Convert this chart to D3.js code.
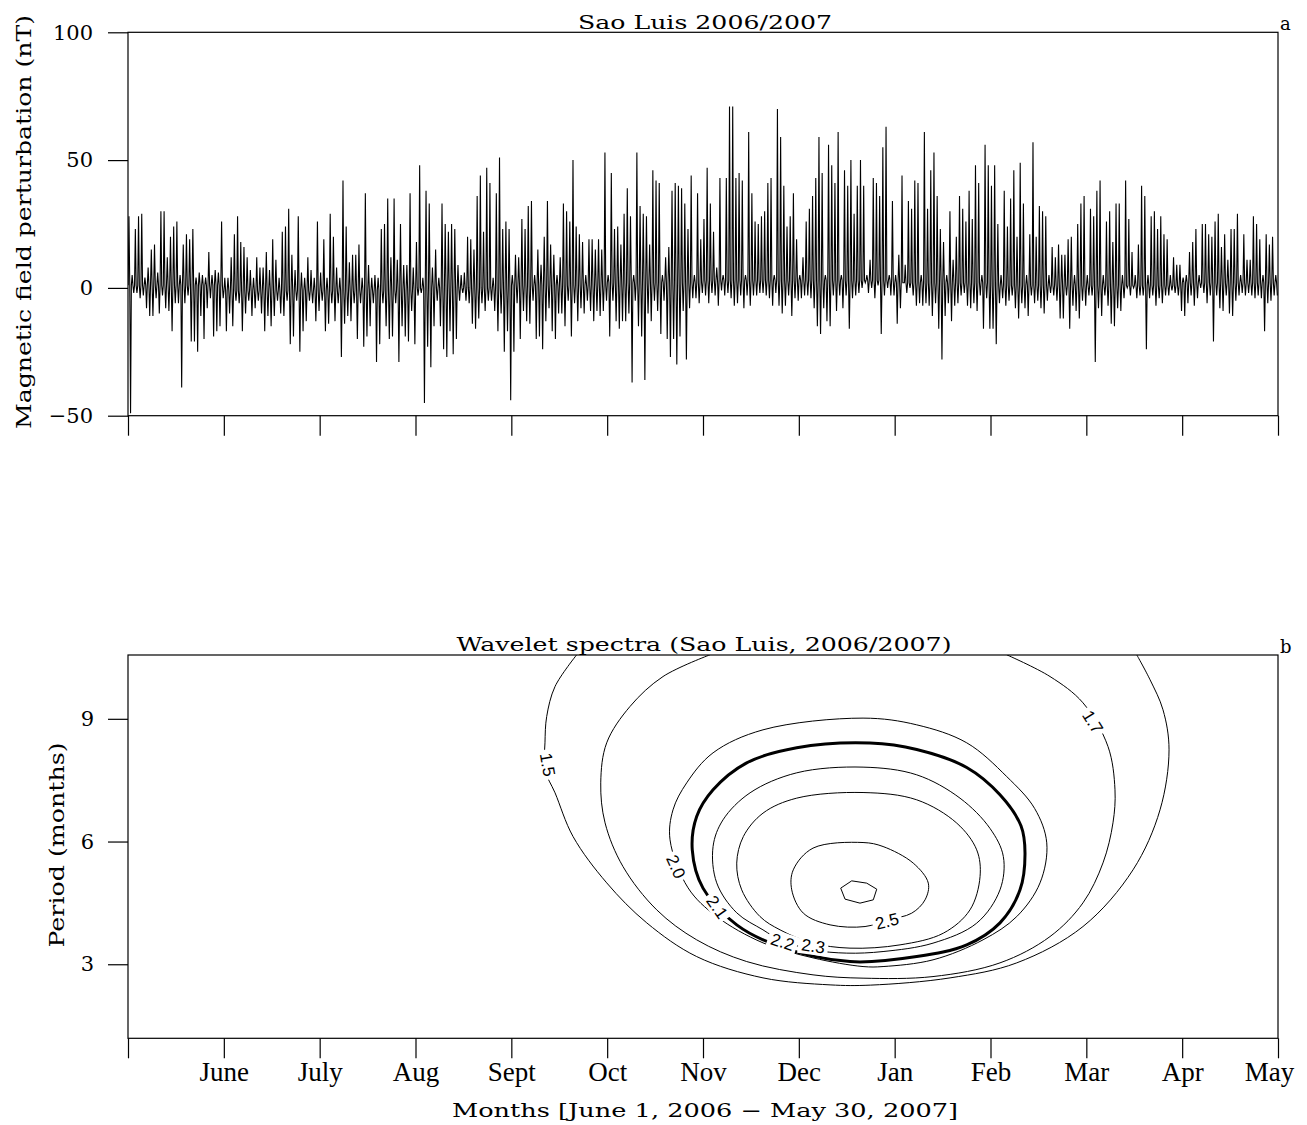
<!DOCTYPE html>
<html>
<head>
<meta charset="utf-8">
<script src="https://cdn.jsdelivr.net/npm/d3@7"></script>
<style>
  html, body { margin: 0; padding: 0; background: #fff; }
  svg { display: block; }
</style>
</head>
<body>
<svg id="chart" width="1307" height="1125"></svg>
<script>
// ---------------- DATA ----------------
const monthLabels = ["June","July","Aug","Sept","Oct","Nov","Dec","Jan","Feb","Mar","Apr","May"];
const topYTicks = [100, 50, 0, -50];
const periodTicks = [3, 6, 9];

// daily positive excursion (nT), 30 days per month, June 2006 .. May 2007
const dailyHigh = [
  28,5,23,28,29,4,8,15,17,6,30,30,12,20,24,26,5,17,21,19,23,4,6,5,4,14,5,7,6,26,
  4,4,12,21,28,18,16,12,7,4,12,8,8,14,7,19,11,4,22,24,31,13,7,28,6,4,12,7,4,26,
  6,19,4,29,20,8,4,42,24,10,13,13,17,4,37,9,4,5,4,23,25,35,12,35,11,25,9,9,37,8,
  18,48,4,38,33,8,15,4,33,25,22,25,23,9,5,6,20,19,15,36,44,22,47,41,4,37,51,23,26,23,
  5,13,12,27,23,32,34,5,15,9,20,34,17,13,5,12,33,30,26,50,24,21,18,5,19,19,15,19,15,53,
  5,45,23,24,17,29,39,28,5,53,32,29,28,17,46,42,41,5,12,16,38,41,40,39,33,23,44,5,37,19,
  27,47,33,22,8,43,5,43,71,71,43,45,42,5,61,37,26,25,28,30,41,43,5,70,59,40,24,28,37,19,
  5,12,26,31,36,43,59,45,5,56,48,41,61,5,46,40,50,29,40,50,40,5,11,43,41,36,55,63,5,34,
  5,13,44,9,34,31,42,41,5,61,31,46,53,36,23,18,5,30,11,20,36,31,26,38,27,48,41,5,56,48,
  40,48,25,5,38,24,35,46,20,49,33,5,21,57,20,32,30,28,5,16,12,17,13,13,19,20,5,25,33,36,
  5,31,28,38,42,5,26,30,18,33,33,5,42,27,14,5,17,40,36,5,28,30,23,28,21,19,5,12,9,9,
  4,5,14,18,23,5,25,25,21,20,26,29,16,21,11,23,23,29,5,21,11,11,28,25,19,5,21,17,20,5
];
// daily negative excursion (nT)
const dailyLow = [
  -49,-2,-2,-4,-3,-8,-11,-11,-4,-10,-3,-8,-9,-17,-6,-6,-39,-6,-3,-21,-21,-25,-11,-20,-8,-4,-19,-17,-15,-4,
  -17,-10,-15,-5,-6,-17,-10,-5,-11,-8,-5,-10,-17,-11,-15,-11,-5,-10,-11,-5,-22,-19,-5,-25,-17,-13,-5,-6,-13,-9,
  -5,-17,-14,-6,-13,-6,-27,-14,-11,-13,-6,-20,-6,-23,-19,-15,-6,-29,-22,-6,-15,-20,-19,-6,-29,-15,-19,-21,-9,-22,
  -3,-2,-45,-23,-31,-15,-5,-15,-24,-27,-17,-26,-20,-5,-2,-5,-6,-14,-16,-12,-6,-9,-5,-5,-9,-17,-10,-25,-17,-44,
  -25,-6,-20,-9,-13,-14,-5,-20,-19,-24,-13,-8,-17,-20,-10,-10,-15,-5,-19,-6,-13,-8,-10,-5,-9,-13,-9,-11,-9,-5,
  -19,-5,-13,-16,-13,-13,-10,-37,-5,-15,-19,-36,-10,-13,-5,-9,-18,-5,-20,-27,-20,-30,-19,-9,-28,-8,-4,-4,-6,-2,
  -3,-6,-2,-3,-7,-1,-3,-2,-4,-7,-6,-3,-8,-3,-7,-3,-3,-2,-2,-3,-4,-7,-2,-7,-10,-7,-3,-11,-4,-5,
  -4,-3,-3,-4,-8,-15,-18,-8,-13,-15,-3,-9,-3,-8,-3,-16,-4,-3,-2,0,2,-2,0,-4,1,-18,-3,0,-3,-3,
  -14,-8,2,-2,0,-3,-7,-6,-7,-6,-7,-11,-6,-16,-28,-11,-6,-13,-7,-6,-3,-2,-7,-8,-6,-9,-3,-16,-4,-16,
  -16,-22,-6,-4,-7,-5,-3,-8,-12,-6,-8,-11,-3,-6,-5,-8,-10,-5,-2,-3,-5,-12,-12,-3,-16,-7,-9,-12,-5,-7,
  -3,-3,-29,-8,-11,-3,-7,-14,-15,-8,-9,-4,0,-3,0,-4,-3,-3,-24,-4,-3,-7,-4,-6,-3,-3,-1,-2,-3,-9,
  -11,-6,-3,-7,-4,0,-2,-6,-3,-21,-3,-8,-9,-3,-10,-11,-5,-3,-2,-3,-2,-3,-4,-3,-4,-17,-6,-5,-3,-3
];
// quiet-level of each month (nT)
const monthlyBase = [1, -1, -1, 0, 1, 2, 3, 3, 2, 1, 1, 2];

// wavelet power contours: [month offset from June 1, period in months]
const contour15 = [[4.682,10.565],[4.456,9.790],[4.369,9.056],[4.351,8.413],[4.351,7.75],[4.456,7.191],[4.644,6.122],[4.995,4.990],[5.413,4.012],[5.934,3.188],[6.626,2.667],[7.326,2.496],[7.75,2.49],[8.578,2.667],[9.274,3.034],[9.965,3.922],[10.487,5.308],[10.769,6.775],[10.863,8.242],[10.800,9.220],[10.665,9.954],[10.526,10.565]];
const contour17 = [[6.073,10.565],[5.583,10.034],[5.238,9.301],[4.995,8.413],[4.933,7.435],[4.978,6.457],[5.165,5.389],[5.517,4.330],[5.934,3.597],[6.456,3.066],[7.148,2.741],[7.670,2.660],[8.400,2.699],[9.099,3.034],[9.621,3.677],[9.965,4.501],[10.174,5.479],[10.278,6.457],[10.299,7.264],[10.226,8.323],[9.965,9.391],[9.621,10.034],[9.169,10.565]];
const contour20 = [[7.670,9.017],[8.230,8.853],[8.752,8.413],[9.169,7.589],[9.460,6.810],[9.587,5.968],[9.517,4.990],[9.274,4.166],[8.922,3.597],[8.400,3.108],[7.879,2.944],[7.670,2.944],[7.148,3.156],[6.626,3.523],[6.143,4.166],[5.844,4.868],[5.656,6.042],[5.687,6.775],[5.830,7.435],[6.105,8.169],[6.626,8.731]];
const contour21 = [[7.743,8.406],[8.230,8.250],[8.752,7.810],[9.099,7.142],[9.318,6.384],[9.360,5.724],[9.308,4.819],[9.099,4.012],[8.752,3.474],[8.230,3.188],[7.534,3.066],[6.804,3.433],[6.352,3.963],[6.0,4.861],[5.888,5.797],[5.934,6.611],[6.105,7.264],[6.456,7.924],[6.978,8.291]];
const contour22 = [[7.670,7.819],[8.230,7.631],[8.682,7.060],[8.995,6.320],[9.134,5.633],[9.099,4.819],[8.856,4.005],[8.400,3.516],[7.879,3.311],[7.500,3.272],[7.148,3.352],[6.804,3.597],[6.626,3.841],[6.352,4.257],[6.143,4.990],[6.105,5.878],[6.209,6.531],[6.491,7.191],[6.978,7.680]];
const contour23 = [[7.670,7.198],[8.230,7.020],[8.648,6.450],[8.856,5.797],[8.891,5.144],[8.786,4.330],[8.508,3.760],[8.056,3.474],[7.534,3.394],[7.135,3.523],[6.804,3.841],[6.595,4.166],[6.404,4.819],[6.352,5.472],[6.421,6.122],[6.626,6.694],[6.978,7.061]];
const contour25 = [[7.670,5.976],[7.879,5.878],[8.194,5.472],[8.351,4.983],[8.317,4.575],[8.178,4.249],[7.934,4.086],[7.691,3.922],[7.326,3.963],[7.047,4.249],[6.926,4.819],[6.942,5.308],[7.148,5.839]];
const contour26 = [[7.552,5.039],[7.708,4.983],[7.813,4.836],[7.777,4.575],[7.638,4.494],[7.482,4.592],[7.437,4.861]];

// contour label text, its anchor [month, period] and angle
const contourLabels = [
  { text: "1.5", pos: [4.38, 7.88], angle: 80 },
  { text: "1.7", pos: [10.07, 8.93], angle: 58 },
  { text: "2.0", pos: [5.72, 5.39], angle: 66 },
  { text: "2.1", pos: [6.15, 4.40], angle: 55 },
  { text: "2.2", pos: [6.83, 3.55], angle: 18 },
  { text: "2.3", pos: [7.15, 3.45], angle: 8 },
  { text: "2.5", pos: [7.92, 4.06], angle: -14 }
];

// ---------------- DRAWING ----------------
const svg = d3.select("#chart");
const serif = "'DejaVu Serif', serif";

// ===== Panel a =====
const xa = d3.scaleLinear().domain([0, 360]).range([128, 1278]);
const ya = d3.scaleLinear().domain([-50, 100]).range([415.7, 32.3]);

const series = [];
dailyHigh.forEach((hi, d) => {
  const b = monthlyBase[Math.floor(d / 30)];
  series.push([d + 0.05, b], [d + 0.3, hi], [d + 0.55, b], [d + 0.8, dailyLow[d]]);
});

svg.append("defs").append("clipPath").attr("id", "clipA")
  .append("rect").attr("x", 128).attr("y", 32).attr("width", 1150).attr("height", 384);

svg.append("path")
  .datum(series)
  .attr("clip-path", "url(#clipA)")
  .attr("fill", "none")
  .attr("stroke", "#000")
  .attr("stroke-width", 1.1)
  .attr("d", d3.line().x(d => xa(d[0])).y(d => ya(d[1])));

// frame
svg.append("rect").attr("x", 128).attr("y", 32.3).attr("width", 1150).attr("height", 383.4)
  .attr("fill", "none").attr("stroke", "#000").attr("stroke-width", 1.2);

const axA_y = svg.append("g").attr("transform", "translate(128,0)")
  .call(d3.axisLeft(ya).tickValues(topYTicks).tickSize(20).tickPadding(15));
const axA_x = svg.append("g").attr("transform", "translate(0,415.7)")
  .call(d3.axisBottom(xa).tickValues(d3.range(0, 361, 30)).tickSize(20).tickFormat(""));

[axA_y, axA_x].forEach(g => {
  g.select(".domain").remove();
  g.selectAll(".tick line").attr("stroke", "#000").attr("stroke-width", 1.2);
});
axA_y.selectAll("text").attr("font-family", serif).attr("font-size", 21).attr("fill", "#000");

svg.append("text").attr("x", 705).attr("y", 29)
  .attr("text-anchor", "middle").attr("font-family", serif).attr("font-size", 18)
  .attr("textLength", 254).attr("lengthAdjust", "spacingAndGlyphs")
  .text("Sao Luis 2006/2007");
svg.append("text").attr("x", 1280).attr("y", 30)
  .attr("font-family", serif).attr("font-size", 18).text("a");
svg.append("text")
  .attr("transform", "translate(31,222) rotate(-90)")
  .attr("text-anchor", "middle").attr("font-family", serif).attr("font-size", 21)
  .attr("textLength", 414).attr("lengthAdjust", "spacingAndGlyphs")
  .text("Magnetic field perturbation (nT)");

// ===== Panel b =====
const xb = d3.scaleLinear().domain([0, 12]).range([128, 1278]);
const yb = d3.scaleLinear().domain([1.19, 10.56]).range([1038.3, 655]);

svg.select("defs").append("clipPath").attr("id", "clipB")
  .append("rect").attr("x", 128).attr("y", 655).attr("width", 1150).attr("height", 383.3);

const gC = svg.append("g").attr("clip-path", "url(#clipB)");
const openLine = d3.line().x(d => xb(d[0])).y(d => yb(d[1])).curve(d3.curveCatmullRom.alpha(0.5));
const closedLine = d3.line().x(d => xb(d[0])).y(d => yb(d[1])).curve(d3.curveCatmullRomClosed.alpha(0.5));
const polyLine = d3.line().x(d => xb(d[0])).y(d => yb(d[1])).curve(d3.curveLinearClosed);

const contourSet = [
  { pts: contour15, gen: openLine, w: 1 },
  { pts: contour17, gen: openLine, w: 1 },
  { pts: contour20, gen: closedLine, w: 1 },
  { pts: contour21, gen: closedLine, w: 3 },
  { pts: contour22, gen: closedLine, w: 1 },
  { pts: contour23, gen: closedLine, w: 1 },
  { pts: contour25, gen: closedLine, w: 1 },
  { pts: contour26, gen: polyLine, w: 1 }
];
contourSet.forEach(c => {
  gC.append("path").attr("d", c.gen(c.pts))
    .attr("fill", "none").attr("stroke", "#000").attr("stroke-width", c.w);
});

contourLabels.forEach(l => {
  const g = gC.append("g")
    .attr("transform", `translate(${xb(l.pos[0])},${yb(l.pos[1])}) rotate(${l.angle})`);
  g.append("rect").attr("x", -15).attr("y", -9).attr("width", 30).attr("height", 18).attr("fill", "#fff");
  g.append("text").attr("text-anchor", "middle").attr("dy", "0.36em")
    .attr("font-family", "'Liberation Sans', sans-serif").attr("font-size", 17).text(l.text);
});

svg.append("rect").attr("x", 128).attr("y", 655).attr("width", 1150).attr("height", 383.3)
  .attr("fill", "none").attr("stroke", "#000").attr("stroke-width", 1.2);

const axB_y = svg.append("g").attr("transform", "translate(128,0)")
  .call(d3.axisLeft(yb).tickValues(periodTicks).tickSize(20).tickPadding(14));
const axB_x = svg.append("g").attr("transform", "translate(0,1038.3)")
  .call(d3.axisBottom(xb).tickValues(d3.range(0, 13)).tickSize(20).tickPadding(4)
    .tickFormat(i => i === 0 ? "" : monthLabels[i - 1]));
[axB_y, axB_x].forEach(g => {
  g.select(".domain").remove();
  g.selectAll(".tick line").attr("stroke", "#000").attr("stroke-width", 1.2);
});
axB_y.selectAll("text").attr("font-family", serif).attr("font-size", 21).attr("fill", "#000");
axB_x.selectAll("text").attr("font-family", "'Liberation Serif', serif").attr("font-size", 27).attr("fill", "#000")
  .attr("dx", (d) => d === 12 ? -9 : 0);

svg.append("text").attr("x", 704).attr("y", 651)
  .attr("text-anchor", "middle").attr("font-family", serif).attr("font-size", 18)
  .attr("textLength", 495).attr("lengthAdjust", "spacingAndGlyphs")
  .text("Wavelet spectra (Sao Luis, 2006/2007)");
svg.append("text").attr("x", 1280).attr("y", 653)
  .attr("font-family", serif).attr("font-size", 18).text("b");
svg.append("text")
  .attr("transform", "translate(64,845) rotate(-90)")
  .attr("text-anchor", "middle").attr("font-family", serif).attr("font-size", 21)
  .attr("textLength", 205).attr("lengthAdjust", "spacingAndGlyphs")
  .text("Period (months)");
svg.append("text").attr("x", 705).attr("y", 1117)
  .attr("text-anchor", "middle").attr("font-family", serif).attr("font-size", 19)
  .attr("textLength", 506).attr("lengthAdjust", "spacingAndGlyphs")
  .text("Months [June 1, 2006 \u2212 May 30, 2007]");
</script>
</body>
</html>
